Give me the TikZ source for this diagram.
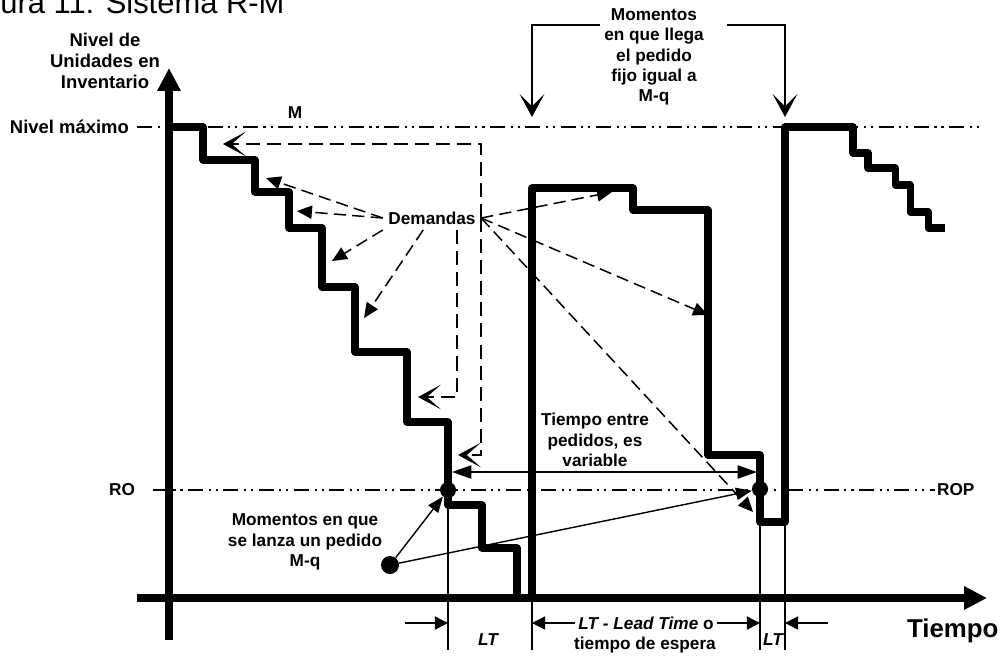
\documentclass[tikz,border=0pt]{standalone}
\usepackage{fontspec}
\setmainfont{Liberation Sans}
\usetikzlibrary{arrows.meta}

\tikzset{
  inv/.style={line width=4pt, line join=round},
  eje/.style={line width=4pt, -{Triangle[length=13pt,width=12.5pt]}},
  lbl/.style={font=\fontsize{9.8}{11.6}\selectfont\bfseries, align=center, inner sep=1pt},
  ejelbl/.style={font=\fontsize{10.5}{12}\selectfont\bfseries, align=center, inner sep=1pt},
  nivel/.style={line width=0.7pt, dash pattern=on 8.5pt off 3.2pt on 1.2pt off 2.8pt on 1.2pt off 3.2pt},
  dem/.style={line width=0.85pt, dash pattern=on 7pt off 3.5pt, -{Triangle[length=8.5pt,width=7.5pt]}},
  demab/.style={line width=0.85pt, dash pattern=on 8pt off 4pt, -{Stealth[length=13pt,width=14pt,inset=8pt]}},
  cota/.style={line width=0.8pt, ->},
  guia/.style={line width=0.8pt},
  sol/.style={line width=0.8pt, -{Triangle[length=9pt,width=7pt]}},
  punto/.style={circle, fill, inner sep=0pt, minimum size=0.32cm},
  llega/.style={line width=1pt, -{Stealth[length=13pt,width=14pt,inset=7pt]}}
}

\begin{document}
\begin{tikzpicture}[x=0.02cm, y=-0.02cm, >={Triangle[length=7.5pt,width=7.5pt]}]
	\useasboundingbox (0,0) rectangle (1000,656);
	\node[anchor=base west, inner sep=0pt, font=\fontsize{17.6}{20}\selectfont] (titulo) at (0,13) {ura 11: Sistema R-M};
	\draw[eje] (169,640) -- (169,68);
	\draw[eje] (137,598) -- (987,598);
	\node[ejelbl] (nivel) at (105,61) {Nivel de\\Unidades en\\Inventario};
	\node[ejelbl, anchor=base west, font=\fontsize{14.7}{17}\selectfont\bfseries] (tiempo) at (905,637) {Tiempo};
	\node[ejelbl, anchor=east] (maximo) at (131,127) {Nivel máximo};
	\coordinate (mfin) at (980,127);
	\draw[nivel] ([xshift=3.4pt]maximo.east) -- (mfin);
	\node[lbl] (m) at (295,113) {M};
	\node[lbl] (ro) at (122,490) {RO};
	\node[lbl, anchor=west] (rop) at (935,490) {ROP};
	\draw[nivel] ([xshift=9pt]ro.east) -- (rop.west);
	\draw[inv] (169,127) \foreach \x/\y in {203/160,255/192,289/228,322/287,355/352,407/422,448/505,482/548,517/598} { -| (\x,\y) } -- (532,598)
		\foreach \x/\y in {633/188,708/210,760/455,785/522,853/127,868/153,895/168,910/185,928/212,945/228} { |- (\x,\y) };
	\foreach \x/\y in {448/505,532/598,760/522,785/522} {\draw[guia] (\x,\y) -- (\x,650);}
	\coordinate (c1) at (405,623);
	\coordinate (c2) at (448,623);
	\coordinate (c3) at (532,623);
	\coordinate (c4) at (760,623);
	\coordinate (c5) at (828,623);
	\coordinate (c6) at (785,623);
	\draw[cota] (c1) -- (c2);
	\draw[cota, <->] (c3) -- node[lbl, fill=white, inner sep=2pt] (lead) {\itshape LT - Lead Time\/ \upshape o} (c4);
	\draw[cota] (c5) -- (c6);
	\node[lbl, font=\fontsize{9.8}{11.6}\selectfont\bfseries\itshape] (lt1) at (488,640) {LT};
	\node[lbl, font=\fontsize{9.8}{11.6}\selectfont\bfseries\itshape] (lt2) at (773,640) {LT};
	\node[lbl] (espera) at (645,645) {tiempo de espera};
	\node[punto] (p1) at (448,490) {};
	\node[punto] (p2) at (760,489) {};
	\node[punto, minimum size=0.36cm] (lanza) at (390,565) {};
	\node[lbl] (lanzatxt) at (305,542) {Momentos en que\\se lanza un pedido\\M-q};
	\draw[sol] (lanza) -- (p1);
	\draw[sol] (lanza) -- (p2);
	\coordinate (t1) at (452,472);
	\coordinate (t2) at (757,472);
	\draw[cota, {Triangle[length=11pt,width=7.5pt]}-{Triangle[length=11pt,width=7.5pt]}] (t1) -- (t2);
	\node[lbl] (entre) at (595,440) {Tiempo entre\\pedidos, es\\variable};
	\node[lbl, inner sep=3pt] (dem) at (432,218) {Demandas};
	\draw[dem] (dem.west) -- (266,178);
	\draw[dem] (dem.west) -- (297,211);
	\draw[dem] (dem.south west) -- (332,261);
	\draw[dem] ([xshift=-5pt]dem.south) -- (364,318);
	\draw[demab] (dem.east) |- (223,144);
	\draw[demab] (dem.east) |- (458,455);
	\draw[demab] ([xshift=-13.7pt]dem.south east) |- (418,397);
	\draw[dem] (dem.east) -- (612,192);
	\draw[dem] (dem.east) -- (708,315);
	\draw[dem] (dem.east) -- (753,512);
	\node[lbl] (llegatxt) at (654,57) {Momentos\\en que llega\\el pedido\\fijo igual a\\M-q};
	\coordinate (bi) at (600,25);
	\coordinate (bd) at (727,25);
	\draw[llega] (bi) -| (532,117);
	\draw[llega] (bd) -| (785,117);
\end{tikzpicture}
\end{document}
